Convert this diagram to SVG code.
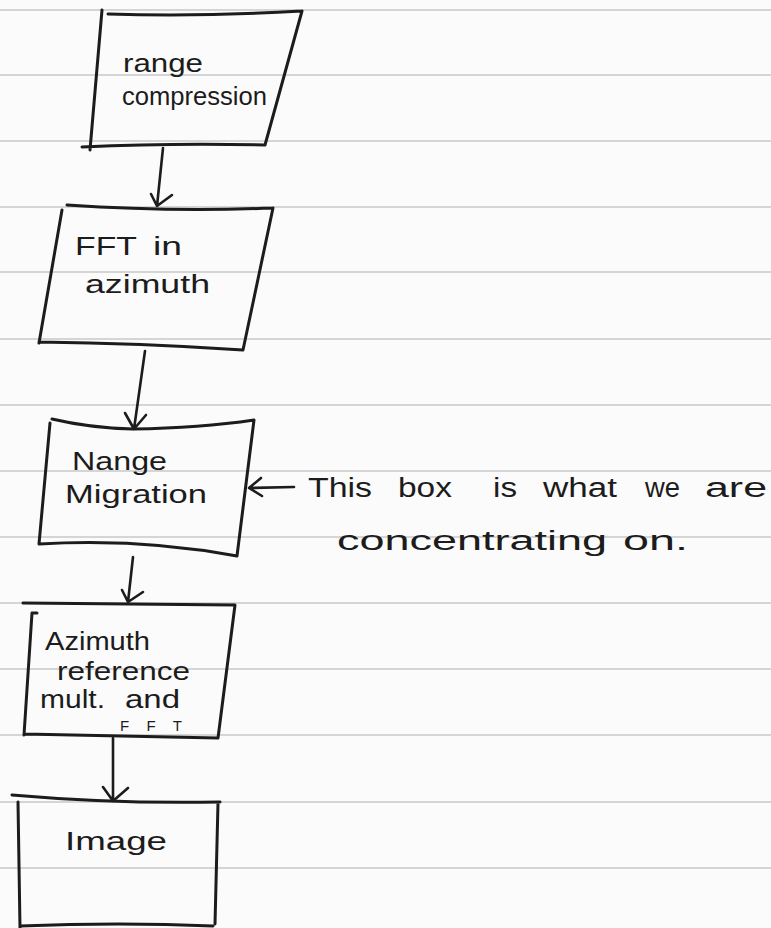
<svg xmlns="http://www.w3.org/2000/svg" width="771" height="928" viewBox="0 0 771 928">
<style>
.rule{stroke:#c9c9c9;stroke-width:1.6;fill:none}
.box{fill:none;stroke:#1c1c1c;stroke-width:3;stroke-linejoin:round;stroke-linecap:round}
.conn{fill:none;stroke:#1c1c1c;stroke-width:2.6;stroke-linecap:round;stroke-linejoin:round}
.t{font-family:"Liberation Sans","DejaVu Sans",sans-serif;fill:#1c1c1c;font-size:25px}
.note{font-family:"Liberation Sans","DejaVu Sans",sans-serif;fill:#1c1c1c;font-size:27px}
</style>
<rect width="771" height="928" fill="#fbfbfb"/>
<g id="ruling">
<path class="rule" d="M0 10H771M0 75H771M0 141H771M0 207H771M0 272H771M0 339H771M0 405H771M0 471H771M0 537H771M0 603H771M0 669H771M0 735H771M0 802H771M0 868H771"/>
</g>
<g id="node-range-compression">
<path class="box" d="M108 14 Q200 17 302 11 M302 11 L265 145 M265 145 Q170 143 82 147 M102 10 L90 150"/>
<text class="t" x="123" y="72" textLength="80" lengthAdjust="spacingAndGlyphs">range</text>
<text class="t" x="122" y="105" textLength="145" lengthAdjust="spacingAndGlyphs">compression</text>
</g>
<g id="node-fft-azimuth">
<path class="box" d="M67 205 Q170 212 273 208 M273 208 L243 350 M39 342 Q140 343 243 350 M62 210 L39 343"/>
<text class="t" x="75" y="255"><tspan textLength="62" lengthAdjust="spacingAndGlyphs">FFT</tspan><tspan x="153" textLength="29" lengthAdjust="spacingAndGlyphs">in</tspan></text>
<text class="t" x="85" y="293" textLength="125" lengthAdjust="spacingAndGlyphs">azimuth</text>
</g>
<g id="node-range-migration">
<path class="box" d="M52 419 Q90 428 133 429 Q200 428 254 420 M254 420 L237 556 M39 544 Q140 538 237 556 M50 423 L39 544"/>
<text class="t" x="72" y="470" textLength="95" lengthAdjust="spacingAndGlyphs">Nange</text>
<text class="t" x="65" y="503" textLength="142" lengthAdjust="spacingAndGlyphs">Migration</text>
</g>
<g id="node-azimuth-reference">
<path class="box" d="M23 603 Q130 604 235 605 M235 605 L218 738 M24 734 Q120 736 218 738 M32 613 L24 735 M32 613 L37 613"/>
<text class="t" x="45" y="650" textLength="105" lengthAdjust="spacingAndGlyphs">Azimuth</text>
<text class="t" x="57" y="680" textLength="133" lengthAdjust="spacingAndGlyphs">reference</text>
<text class="t" x="40" y="708"><tspan textLength="65" lengthAdjust="spacingAndGlyphs">mult.</tspan><tspan x="125" textLength="55" lengthAdjust="spacingAndGlyphs">and</tspan></text>
<text class="t" x="120" y="731" style="font-size:15px" textLength="62" lengthAdjust="spacing">FFT</text>
</g>
<g id="node-image">
<path class="box" d="M12 795 Q115 804 220 802 M218 803 L215 924 M20 926 Q120 922 213 926 M18 802 L20 928"/>
<text class="t" x="65" y="850" textLength="102" lengthAdjust="spacingAndGlyphs">Image</text>
</g>
<g id="connectors">
<path class="conn" d="M163 148 L157 206 M151 194 L157 206 L172 195"/>
<path class="conn" d="M145 351 L134 429 M125 413 L134 429 L146 415"/>
<path class="conn" d="M133 557 L128 602 M122 590 L128 602 L143 592"/>
<path class="conn" d="M113 738 L113 801 M103 787 L113 801 L128 788"/>
<path class="conn" d="M294 487 L249 488 M261 478 L249 488 L262 496"/>
</g>
<g id="annotation">
<text class="note" y="497"><tspan x="308" textLength="64" lengthAdjust="spacingAndGlyphs">This</tspan><tspan x="398" textLength="54" lengthAdjust="spacingAndGlyphs">box</tspan><tspan x="493" textLength="24" lengthAdjust="spacingAndGlyphs">is</tspan><tspan x="543" textLength="74" lengthAdjust="spacingAndGlyphs">what</tspan><tspan x="645" textLength="35" lengthAdjust="spacingAndGlyphs">we</tspan><tspan x="705" textLength="62" lengthAdjust="spacingAndGlyphs">are</tspan></text>
<text class="note" y="550"><tspan x="337" textLength="270" lengthAdjust="spacingAndGlyphs">concentrating</tspan><tspan x="623" textLength="65" lengthAdjust="spacingAndGlyphs">on.</tspan></text>
</g>
</svg>
